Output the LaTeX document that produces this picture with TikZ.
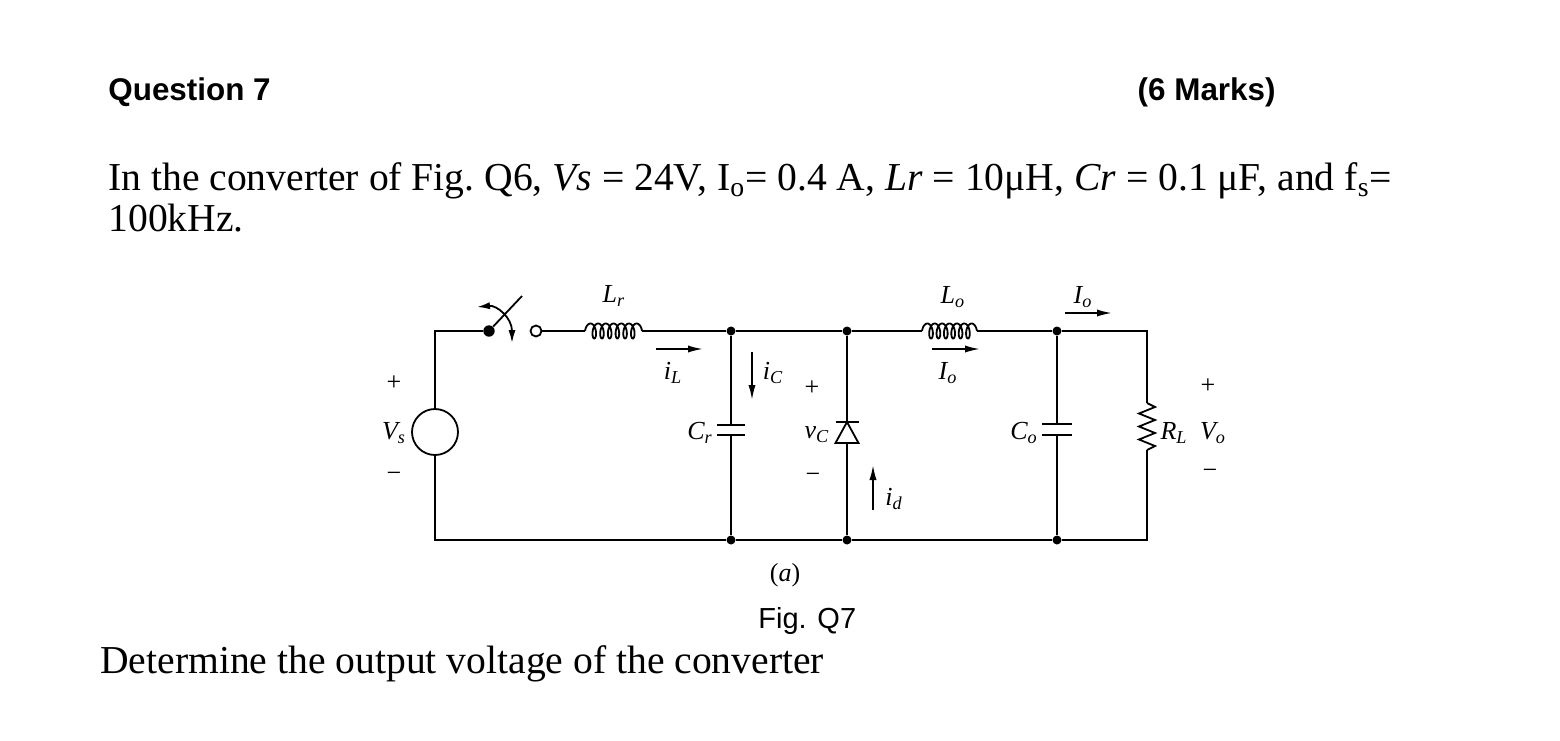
\documentclass[tikz,border=0pt]{standalone}
\usepackage{fontspec}
\setmainfont{Liberation Serif}
\newfontfamily\arialfont{Liberation Sans}
\usetikzlibrary{arrows.meta}

\newcommand{\indcoil}[2]{%
  \draw[wire,shift={(#1)}] plot[domain=0:6.5,samples=220,smooth,variable=\t]
    ({#2*\t+3.5*(1-cos(360*\t))},{-7.5*sin(360*\t)});}

\begin{document}
\begin{tikzpicture}[x=0.5pt,y=-0.5pt,
  wire/.style={line width=0.9pt},
  dot/.style={circle,fill,inner sep=0pt,minimum size=4.5pt},
  cur/.style={line width=0.9pt,-{Latex[length=7.5pt,width=3.6pt]}},
  lbl/.style={font=\fontsize{13}{15}\selectfont\itshape,inner sep=0pt},
  sgn/.style={font=\fontsize{13}{15}\selectfont,inner sep=0pt},
  body/.style={anchor=base west,inner sep=0pt,font=\fontsize{19.8}{24}\selectfont}]
\useasboundingbox (0,0) rectangle (1560,740);

\node[anchor=base west,inner sep=0pt,font=\arialfont\bfseries\fontsize{15.7}{18}\selectfont] (qno) at (108,100) {Question 7};
\node[anchor=base east,inner sep=0pt,font=\arialfont\bfseries\fontsize{15.7}{18}\selectfont] (marks) at (1276,100) {(6 Marks)};
\node[body] (line1) at (108,190) {In the converter of Fig.\ Q6, \textit{Vs} = 24V, I\textsubscript{o}= 0.4 A, \textit{Lr} = 10μH, \textit{Cr} = 0.1 μF, and f\textsubscript{s}=};
\node[body] (line2) at (108,231) {100kHz.};

% circuit points
\coordinate (tl) at (435,331); \coordinate (bl) at (435,540);
\node[circle,draw,wire,minimum size=23pt,inner sep=0pt] (vs) at (435,432) {};
\node[dot,minimum size=5.7pt] (swa) at (489,331) {};
\node[circle,draw,wire,fill=white,minimum size=5.5pt,inner sep=0pt] (swb) at (536,331) {};
\coordinate (swtip) at (522,296);
\coordinate (lra) at (585,331); \coordinate (lrb) at (642,331);
\node[dot] (j1) at (731,331) {}; \node[dot] (j1b) at (731,540) {};
\node[dot] (j2) at (847,331) {}; \node[dot] (j2b) at (847,540) {};
\coordinate (loa) at (922,331); \coordinate (lob) at (977,331);
\node[dot] (j3) at (1057,331) {}; \node[dot] (j3b) at (1057,540) {};
\coordinate (tr) at (1147,331); \coordinate (br) at (1147,540);
\coordinate (cra) at (731,425); \coordinate (crb) at (731,435);
\coordinate (dk) at (847,422); \coordinate (da) at (847,443);
\coordinate (coa) at (1057,424); \coordinate (cob) at (1057,435);
\coordinate (rla) at (1147,403); \coordinate (rlb) at (1147,450);

% wires
\draw[wire] (vs) -- (tl) -- (swa);
\draw[wire] (vs) -- (bl) -- (j1b) -- (j2b) -- (j3b) -- (br) -- (rlb);
\draw[wire] (swa) -- (swtip);
\draw[wire] (swb) -- (lra);
\indcoil{lra}{7.7}
\draw[wire] (lrb) -- (j1) -- (j2) -- (loa);
\indcoil{loa}{7.38}
\draw[wire] (lob) -- (j3) -- (tr) -- (rla);
\draw[wire] (j1) -- (cra); \draw[wire] (crb) -- (j1b);
\draw[wire] ([xshift=-7pt]cra) -- ([xshift=7pt]cra);
\draw[wire] ([xshift=-7pt]crb) -- ([xshift=7pt]crb);
\draw[wire] (j3) -- (coa); \draw[wire] (cob) -- (j3b);
\draw[wire] ([xshift=-7.5pt]coa) -- ([xshift=7.5pt]coa);
\draw[wire] ([xshift=-7.5pt]cob) -- ([xshift=7.5pt]cob);
\draw[wire] (j2) -- (dk); \draw[wire] (da) -- (j2b);
\draw[wire] ([xshift=-5.75pt]dk) -- ([xshift=5.75pt]dk);
\draw[wire] (dk) -- ([xshift=-5.75pt]da) -- ([xshift=5.75pt]da) -- cycle;
\draw[wire] (rla) -- ++(8,4) -- ++(-16,6.5) -- ++(16,6.5) -- ++(-16,6.5)
  -- ++(16,6.5) -- ++(-16,6.5) -- ++(16,6.5) -- (rlb);

% switch action
\coordinate (swl) at (477,307); \coordinate (swd) at (512,343);
\draw[wire,{Latex[length=6.5pt,width=3.6pt]}-{Latex[length=6.5pt,width=3.6pt]}]
  (swl) .. controls (497,305) and (512,318) .. (swd);

% currents
\coordinate (iLa) at (656,349); \coordinate (iLb) at (703,349);
\coordinate (iCa) at (752,352); \coordinate (iCb) at (752,400);
\coordinate (ida) at (873,510); \coordinate (idb) at (873,465);
\coordinate (ioa) at (932,349); \coordinate (iob) at (980,349);
\coordinate (Ioa) at (1065,313); \coordinate (Iob) at (1112,313);
\draw[cur] (iLa) -- (iLb);
\draw[cur] (iCa) -- (iCb);
\draw[cur] (ida) -- (idb);
\draw[cur] (ioa) -- (iob);
\draw[cur] (Ioa) -- (Iob);

% labels
\node[lbl] (tLr) at (614,296) {L\textsubscript{r}};
\node[lbl] (tiL) at (673,373) {i\textsubscript{L}};
\node[lbl] (tiC) at (773,373) {i\textsubscript{C}};
\node[lbl] (tCr) at (700,433) {C\textsubscript{r}};
\node[lbl] (tvC) at (817,435) {v\textsubscript{C}};
\node[lbl] (tid) at (894,499) {i\textsubscript{d}};
\node[lbl] (tLo) at (953,297) {L\textsubscript{o}};
\node[lbl] (tIo) at (948,373) {I\textsubscript{o}};
\node[lbl] (tIt) at (1083,297) {I\textsubscript{o}};
\node[lbl] (tCo) at (1024,433) {C\textsubscript{o}};
\node[lbl] (tRL) at (1174,433) {R\textsubscript{L}};
\node[lbl] (tVo) at (1213,433) {V\textsubscript{o}};
\node[lbl] (tVs) at (394,433) {V\textsubscript{s}};
\node[sgn] (p1) at (394,383) {+}; \node[sgn] (m1) at (394,477) {−};
\node[sgn] (p2) at (812,388) {+}; \node[sgn] (m2) at (813,478) {−};
\node[sgn] (p3) at (1208,386) {+}; \node[sgn] (m3) at (1210,474) {−};
\node[sgn] (cap) at (785,575) {(\textit{a})};

\node[anchor=base west,inner sep=0pt,font=\arialfont\fontsize{14.5}{17}\selectfont] (fig) at (758,628) {Fig. Q7};
\node[body] (ask) at (100,673) {Determine the output voltage of the converter};
\end{tikzpicture}
\end{document}
